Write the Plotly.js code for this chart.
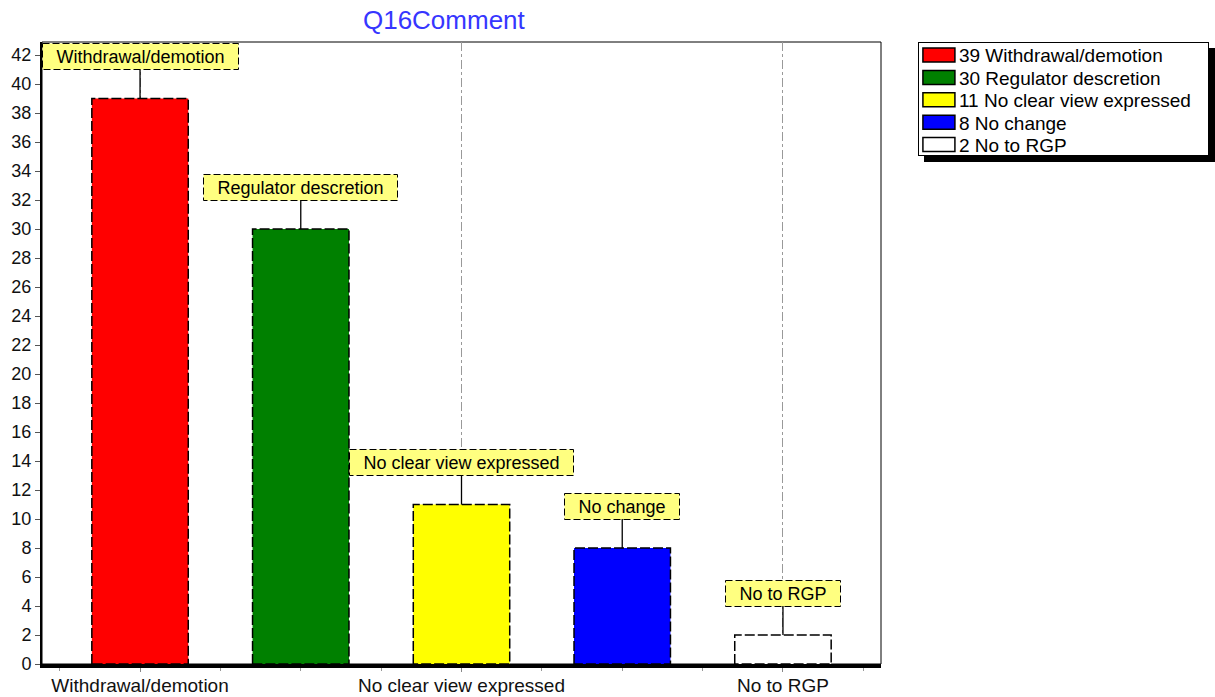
<!DOCTYPE html>
<html>
<head>
<meta charset="utf-8">
<script src="https://cdn.plot.ly/plotly-3.0.1.min.js"></script>
<style>html,body{margin:0;padding:0;background:#fff}</style>
</head>
<body>
<div id="chart" style="width:1215px;height:697px"></div>
<script>
// Q16 comment categories and how many responses fell into each
const categories = ['Withdrawal/demotion', 'Regulator descretion', 'No clear view expressed', 'No change', 'No to RGP'];
const counts = [39, 30, 11, 8, 2];
const barColors = ['#ff0000', '#008000', '#ffff00', '#0000ff', '#ffffff'];
// only every other category gets a label under the axis
const labelledIdx = [0, 2, 4];

const FONT = '"Liberation Sans", Arial, sans-serif';
const FS = 18;

// width of a string in the label font, used to size the callout boxes
const ctx = document.createElement('canvas').getContext('2d');
ctx.font = FS + 'px ' + FONT;
const textW = s => Math.ceil(ctx.measureText(s).width);

const traces = categories.map((c, i) => ({
  type: 'bar',
  x: [i],
  y: [counts[i]],
  width: [0.6],
  name: counts[i] + ' ' + c,
  marker: {color: barColors[i], line: {color: '#000', width: 1.5}},
  hovertemplate: c + ': %{y}<extra></extra>'
}));

const annotations = categories.map((c, i) => ({
  x: i, y: counts[i], xref: 'x', yref: 'y',
  text: c,
  showarrow: true, arrowhead: 0, arrowwidth: 1.3, arrowcolor: '#000',
  ax: 0, ay: -42, standoff: 0,
  bgcolor: '#ffff80', bordercolor: '#000', borderwidth: 1, borderpad: 2,
  width: textW(c) + 22, height: 21,
  font: {family: FONT, size: FS, color: '#000'}
}));

const layout = {
  width: 1215, height: 697,
  margin: {l: 42, r: 334, t: 42, b: 33},
  paper_bgcolor: '#fff', plot_bgcolor: '#fff',
  font: {family: FONT, size: FS, color: '#111'},
  title: {
    text: 'Q16Comment',
    font: {family: FONT, size: 26, color: '#3636ff'},
    xref: 'paper', x: 0.479, xanchor: 'center',
    yref: 'container', y: 0.972, yanchor: 'middle'
  },
  barmode: 'overlay',
  showlegend: true,
  legend: {
    x: 1.044, xanchor: 'left', y: 1, yanchor: 'top',
    bgcolor: '#fff', bordercolor: '#000', borderwidth: 1,
    font: {family: FONT, size: 19, color: '#000'},
    traceorder: 'normal', tracegroupgap: 0
  },
  xaxis: {
    type: 'linear', range: [-0.61, 4.61], fixedrange: true,
    tickmode: 'array',
    tickvals: labelledIdx,
    ticktext: labelledIdx.map(i => categories[i]),
    ticks: 'outside', ticklen: 4, tickcolor: '#888', tickwidth: 1,
    ticklabelstandoff: -3,
    showgrid: true, gridcolor: '#999', griddash: 'dashdot', gridwidth: 1,
    minor: {tickmode: 'linear', tick0: 0, dtick: 0.5, ticks: 'outside', ticklen: 3, tickcolor: '#999', showgrid: false},
    showline: true, linecolor: '#000', linewidth: 4,
    zeroline: false,
    tickfont: {family: FONT, size: 19, color: '#111'}
  },
  yaxis: {
    range: [0, 42.9], fixedrange: true,
    tickmode: 'linear', tick0: 0, dtick: 2,
    ticks: 'outside', ticklen: 5, tickcolor: '#555',
    showgrid: false, zeroline: false,
    showline: true, linecolor: '#000', linewidth: 2,
    tickfont: {family: FONT, size: FS, color: '#111'}
  },
  shapes: [{
    type: 'rect', xref: 'paper', yref: 'paper', x0: 0, x1: 1, y0: 0, y1: 1,
    line: {color: '#000', width: 1}, layer: 'below'
  }],
  annotations: annotations
};

Plotly.newPlot('chart', traces, layout, {displayModeBar: false}).then(gd => {
  // dashed outlines on callouts and bars
  gd.querySelectorAll('.annotation rect.bg').forEach(r => { r.style.strokeDasharray = '7,3'; });
  gd.querySelectorAll('.barlayer .point path').forEach(p => { p.style.strokeDasharray = '10,3'; });
  // wider legend swatches
  gd.querySelectorAll('.legend .legendpoints path').forEach(p => {
    p.setAttribute('d', 'M16,7H-16V-7H16Z');
    p.style.strokeWidth = '1.5px';
    p.style.stroke = '#000';
  });
  // tighter legend rows and a fixed box size
  const rowGap = 22.4, firstRow = 13;
  gd.querySelectorAll('.legend .traces').forEach((t, k) => {
    const m = /translate\(\s*([-\d.]+)[ ,]+([-\d.]+)\s*\)/.exec(t.getAttribute('transform') || '');
    const tx = m ? parseFloat(m[1]) : 0;
    t.setAttribute('transform', 'translate(' + tx + ',' + (firstRow + rowGap * k) + ')');
  });
  const bg = gd.querySelector('.legend rect.bg');
  if (bg) {
    bg.setAttribute('width', 290);
    bg.setAttribute('height', 113);
    // drop shadow behind the legend box
    const sh = bg.cloneNode(false);
    sh.setAttribute('class', 'legend-shadow');
    sh.setAttribute('x', (parseFloat(bg.getAttribute('x')) || 0) + 6);
    sh.setAttribute('y', (parseFloat(bg.getAttribute('y')) || 0) + 6);
    sh.style.fill = '#000';
    sh.style.stroke = '#000';
    bg.parentNode.insertBefore(sh, bg);
  }
  const clip = gd.querySelector('.legend .scrollbox');
  if (clip) clip.removeAttribute('clip-path');
});
</script>
</body>
</html>
